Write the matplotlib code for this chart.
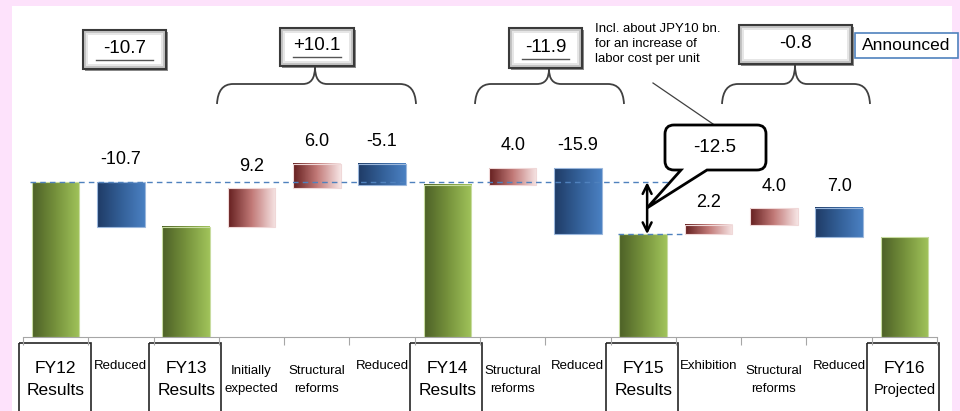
import numpy as np
import matplotlib
matplotlib.use("Agg")
import matplotlib.pyplot as plt
from matplotlib.patches import Rectangle, PathPatch
from matplotlib.path import Path
from matplotlib.colors import LinearSegmentedColormap

plt.rcParams['font.family'] = ['Liberation Sans Narrow', 'Liberation Sans', 'DejaVu Sans']

# waterfall steps (JPY bn)
categories = ['FY12\nResults', 'Reduced', 'FY13\nResults', 'Initially\nexpected',
              'Structural\nreforms', 'Reduced', 'FY14\nResults', 'Structural\nreforms',
              'Reduced', 'FY15\nResults', 'Exhibition', 'Structural\nreforms',
              'Reduced', 'FY16\nProjected']
kinds = ['total', 'down', 'total', 'up', 'up', 'down', 'total', 'up', 'down',
         'total', 'up', 'up', 'down', 'total']
fy12_result = 37.3
changes = [-10.7, 9.2, 6.0, -5.1, 4.0, -15.9, 2.2, 4.0, -7.0]
change_labels = ['-10.7', '9.2', '6.0', '-5.1', '4.0', '-15.9', '2.2', '4.0', '7.0']
group_totals = ['-10.7', '+10.1', '-11.9', '-0.8']
gap_label = '-12.5'
note = 'Incl. about JPY10 bn.\nfor an increase of\nlabor cost per unit'

W, H = 960, 411
PX_PER_UNIT = 4.15
X0, X1, BASE, TOP = 23, 937, 337, 5
SLOT = (X1 - X0) / len(categories)

fig = plt.figure(figsize=(W / 100, H / 100), dpi=100)
fig.patch.set_facecolor('#fde2fb')

# pixel overlay for the slide furniture
ov = fig.add_axes([0, 0, 1, 1], zorder=0)
ov.set_xlim(0, W)
ov.set_ylim(H, 0)
ov.axis('off')
ov.add_patch(Rectangle((12, 6), 940, H, fc='white', ec='none'))

ax = fig.add_axes([X0 / W, (H - BASE) / H, (X1 - X0) / W, (BASE - TOP) / H], zorder=1)
ax.patch.set_alpha(0)

# bar extents
bottoms, heights = [], []
level = fy12_result
ci = 0
for k in kinds:
    if k == 'total':
        bottoms.append(0)
        heights.append(level)
    else:
        c = changes[ci]
        bottoms.append(min(level, level + c))
        heights.append(abs(c))
        level += c
        ci += 1

grads = {
    'total': LinearSegmentedColormap.from_list('g', ['#4d6127', '#76923c', '#a0c35a']),
    'down': LinearSegmentedColormap.from_list('b', ['#1f3b66', '#335f97', '#4a80c2']),
    'up': LinearSegmentedColormap.from_list('r', ['#662020', '#c27a78', '#f6e4e4']),
}
edges = {'total': '#c8dca0', 'down': '#9bb7dc', 'up': '#f0d8d8'}

x = np.arange(len(categories))
bw = 0.73
bars = ax.bar(x, heights, bw, bottom=bottoms, color='none',
              edgecolor=[edges[k] for k in kinds], linewidth=0.8, zorder=3)
ramp = np.linspace(0, 1, 64).reshape(1, -1)
for b, k in zip(bars, kinds):
    bx, by = b.get_x(), b.get_y()
    ax.imshow(ramp, cmap=grads[k], aspect='auto', zorder=2,
              extent=(bx, bx + b.get_width(), by, by + b.get_height()))

# value labels above the change bars
ci = 0
for i, k in enumerate(kinds):
    if k != 'total':
        ax.annotate(change_labels[ci], (i, bottoms[i] + heights[i]), xytext=(0, 16),
                    textcoords='offset points', ha='center', va='center', fontsize=13)
        ci += 1

ax.set_xlim(-0.5, len(categories) - 0.5)
ax.set_ylim(0, (BASE - TOP) / PX_PER_UNIT)
for s in ['top', 'right', 'left']:
    ax.spines[s].set_visible(False)
ax.spines['bottom'].set_color('#a6a6a6')
ax.set_yticks([])
ax.set_xticks(np.arange(len(categories) + 1) - 0.5)
ax.set_xticklabels([])
ax.tick_params(axis='x', direction='out', length=6, color='#a6a6a6')

# reference levels and the FY14 -> FY15 gap
fy15 = heights[9]
ax.plot([-0.39, 9.41], [fy12_result, fy12_result], ls=(0, (4, 3)), color='#4f81bd', lw=1, zorder=4)
ax.plot([8.61, 9.64], [fy15, fy15], ls=(0, (4, 3)), color='#4f81bd', lw=1, zorder=4)
ax.annotate('', xy=(9.06, fy15), xytext=(9.06, fy12_result),
            arrowprops=dict(arrowstyle='<->', lw=1.8, color='black',
                            shrinkA=0, shrinkB=0, mutation_scale=16), zorder=5)


def slot_px(i):
    return X0 + SLOT * (i + 0.5)


# category labels under the axis
for i, lab in enumerate(categories):
    cx = slot_px(i)
    top, bot = lab.split('\n') if '\n' in lab else (lab, None)
    if kinds[i] == 'total':
        ov.add_patch(Rectangle((cx - 37, 343), 72, 80, fc='none', ec='#262626', lw=1.2))
        ov.text(cx, 368, top, ha='center', va='center', fontsize=12.5)
        ov.text(cx, 390, bot, ha='center', va='center',
                fontsize=12.5 if bot == 'Results' else 10.5)
    elif bot is None:
        ov.text(cx, 366, top, ha='center', va='center', fontsize=9.5)
    else:
        ov.text(cx, 371, top, ha='center', va='center', fontsize=9.5)
        ov.text(cx, 389, bot, ha='center', va='center', fontsize=9.5)


def bevel_box(x0, y0, x1, y1, text, underline=True):
    w, h = x1 - x0, y1 - y0
    ov.add_patch(Rectangle((x0 + 2, y0 + 2), w, h, fc='#8c8c8c', ec='none'))
    ov.add_patch(Rectangle((x0, y0), w, h, fc='#c4c4c4', ec='#3a3a3a', lw=1.5))
    ov.add_patch(Rectangle((x0 + 3, y0 + 3), w - 6, h - 6, fc='#e6e6e6', ec='none'))
    ov.add_patch(Rectangle((x0 + 5, y0 + 5), w - 10, h - 10, fc='white', ec='none'))
    cx, cy = (x0 + x1) / 2, (y0 + y1) / 2
    ov.text(cx, cy - 1, text, ha='center', va='center', fontsize=13.5)
    if underline:
        ov.plot([x0 + 13, x1 - 13], [y1 - 9, y1 - 9], color='#555555', lw=1)


def brace(xa, xb, xt, y_tip, y_mid, y_end):
    r = 16
    verts = [(xa, y_end), (xa + 1, y_mid), (xa + r, y_mid),
             (xt - 12, y_mid),
             (xt, y_mid), (xt, y_tip),
             (xt, y_mid), (xt + 12, y_mid),
             (xb - r, y_mid),
             (xb - 1, y_mid), (xb, y_end)]
    codes = [Path.MOVETO, Path.CURVE3, Path.CURVE3, Path.LINETO,
             Path.CURVE3, Path.CURVE3, Path.CURVE3, Path.CURVE3,
             Path.LINETO, Path.CURVE3, Path.CURVE3]
    ov.add_patch(PathPatch(Path(verts, codes), fc='none', ec='#404040', lw=1.3))


bevel_box(83, 30, 166, 69, group_totals[0])
bevel_box(280, 28, 354, 66, group_totals[1])
bevel_box(509, 28, 582, 68, group_totals[2])
bevel_box(739, 25, 852, 64, group_totals[3], underline=False)

brace(217, 416, 315, 67, 84, 104)
brace(475, 624, 549, 69, 84, 104)
brace(722, 870, 795, 65, 84, 104)

ov.add_patch(Rectangle((855, 33), 103, 25, fc='white', ec='#4f81bd', lw=1.2))
ov.text(906, 45, 'Announced', ha='center', va='center', fontsize=12.5)

# note and callout for the labor cost gap
ov.text(595, 44, note, ha='left', va='center', fontsize=9.5, linespacing=1.35)
ov.plot([653, 713], [83, 124], color='#404040', lw=0.9)

bx0, by0, bx1, by1, rr = 665, 125, 766, 170, 9
cverts = [(bx0 + rr, by0), (bx1 - rr, by0), (bx1, by0), (bx1, by0 + rr),
          (bx1, by1 - rr), (bx1, by1), (bx1 - rr, by1),
          (707, by1), (647, 208), (681, by1),
          (bx0 + rr, by1), (bx0, by1), (bx0, by1 - rr),
          (bx0, by0 + rr), (bx0, by0), (bx0 + rr, by0), (bx0 + rr, by0)]
ccodes = [Path.MOVETO, Path.LINETO, Path.CURVE3, Path.CURVE3,
          Path.LINETO, Path.CURVE3, Path.CURVE3,
          Path.LINETO, Path.LINETO, Path.LINETO,
          Path.LINETO, Path.CURVE3, Path.CURVE3,
          Path.LINETO, Path.CURVE3, Path.CURVE3, Path.CLOSEPOLY]
ov.add_patch(PathPatch(Path(cverts, ccodes), fc='white', ec='black', lw=2, zorder=6))
ov.text(715, 147, gap_label, ha='center', va='center', fontsize=13.5, zorder=7)

fig.savefig('out.png', dpi=100)
